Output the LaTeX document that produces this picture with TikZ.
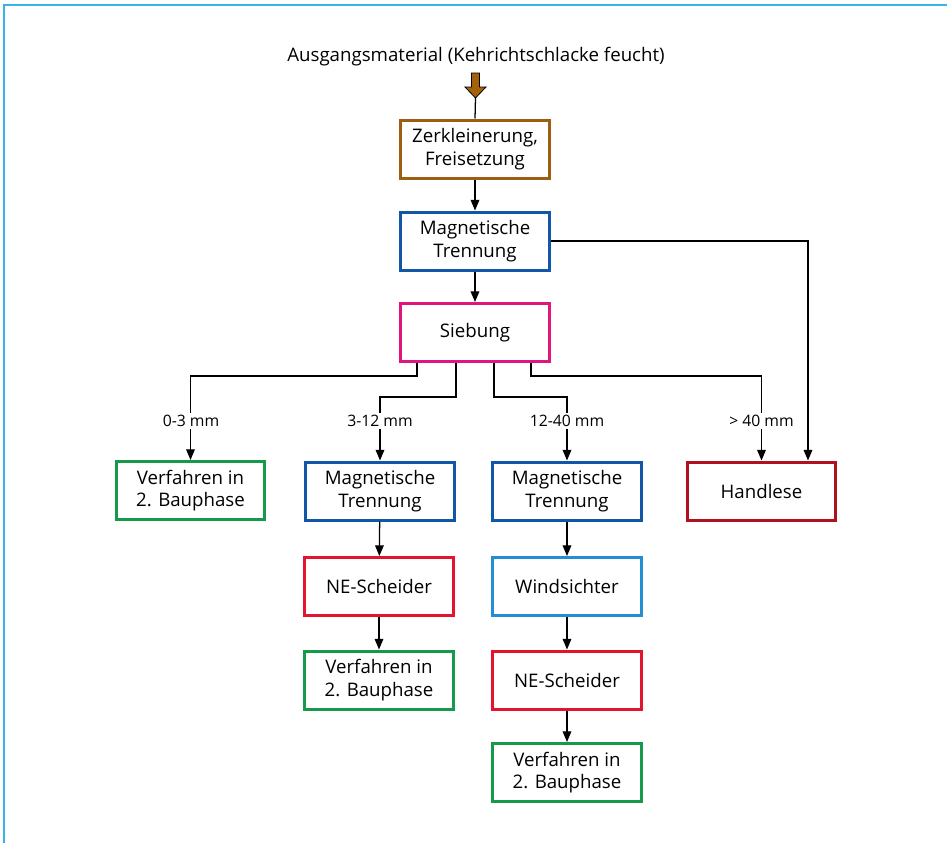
\documentclass[tikz,border=0pt]{standalone}
\usepackage{fontspec}
\setmainfont{Open Sans}
\usetikzlibrary{arrows.meta,calc}
\definecolor{brownc}{HTML}{9C5F12}
\definecolor{brownfill}{HTML}{A5600A}
\definecolor{blueone}{HTML}{1257A5}
\definecolor{magc}{HTML}{E0157F}
\definecolor{greenc}{HTML}{149A48}
\definecolor{redc}{HTML}{E3142C}
\definecolor{lblue}{HTML}{238FD0}
\definecolor{darkred}{HTML}{AF111E}
\definecolor{framec}{HTML}{35B5E9}
\begin{document}
\begin{tikzpicture}[x=0.75pt,y=-0.75pt,
  box/.style={draw, line width=2.25pt, minimum width=111.5pt, minimum height=43.5pt, align=center, font=\fontsize{14}{17}\selectfont, inner sep=2pt, fill=white},
  arr/.style={-{Triangle[length=8pt,width=6.5pt]}, line width=0.95pt},
  conn/.style={line width=0.95pt},
  lab/.style={fill=white, inner sep=1.5pt, font=\fontsize{11.8}{13}\selectfont},
  ttl/.style={font=\fontsize{14}{16}\selectfont},
  fat/.style={fill=brownfill, draw=black, line width=0.6pt}]
\useasboundingbox (0,0) rectangle (947,843);
\draw[framec, line width=1.5pt] (4,843) -- (4,5) -- (947,5);
\node[ttl] (title) at (476,57) {Ausgangsmaterial (Kehrichtschlacke feucht)};
\node[box, draw=brownc] (z) at (475,149) {Zerkleinerung,\\Freisetzung};
\node[box, draw=blueone] (m1) at (475,241) {Magnetische\\Trennung};
\node[box, draw=magc] (s) at (475,332.5) {Siebung};
\node[box, draw=greenc] (v0) at (190.5,490.5) {Verfahren in\\2. Bauphase};
\node[box, draw=blueone] (m2) at (380,491) {Magnetische\\Trennung};
\node[box, draw=blueone] (m3) at (567,491) {Magnetische\\Trennung};
\node[box, draw=darkred] (h) at (761.5,491) {Handlese};
\node[box, draw=redc] (ne1) at (379,586.5) {NE-Scheider};
\node[box, draw=lblue] (w) at (567,586.5) {Windsichter};
\node[box, draw=greenc] (v1) at (379,680) {Verfahren in\\2. Bauphase};
\node[box, draw=redc] (ne2) at (567,680) {NE-Scheider};
\node[box, draw=greenc] (v2) at (567,772.5) {Verfahren in\\2. Bauphase};
% fat input arrow
\coordinate (ft) at (475.5,98);
\filldraw[fat] (471.5,73) -- (479.5,73) -- (479.5,87) -- (486,87) -- (ft) -- (465,87) -- (471.5,87) -- cycle;
\draw[conn] (ft) -- (z.north);
% main chain
\draw[arr] (z) -- (m1);
\draw[arr] (m1) -- (s);
\draw[arr] (m2) -- (ne1);
\draw[arr] (ne1) -- (v1);
\draw[arr] (m3) -- (w);
\draw[arr] (w) -- (ne2);
\draw[arr] (ne2) -- (v2);
% bypass to Handlese
\coordinate (hr) at (808,241);
\draw[arr] (m1.east) -| (hr |- h.north);
% Siebung branches
\coordinate (b1) at (417,0);
\coordinate (b2) at (456,0);
\coordinate (b3) at (494,0);
\coordinate (b4) at (531,0);
\draw[arr] (b1 |- s.south) -- ++(0,13) -| (v0.north);
\draw[arr] (b2 |- s.south) -- ++(0,34) -| (m2.north);
\draw[arr] (b3 |- s.south) -- ++(0,34) -| (m3.north);
\draw[arr] (b4 |- s.south) -- ++(0,13) -| (h.north);
\node[lab] (l1) at (191,421) {0-3 mm};
\node[lab] (l2) at (380,421) {3-12 mm};
\node[lab] (l3) at (567,421) {12-40 mm};
\node[lab] (l4) at (761.5,421) {> 40 mm};
\end{tikzpicture}
\end{document}
